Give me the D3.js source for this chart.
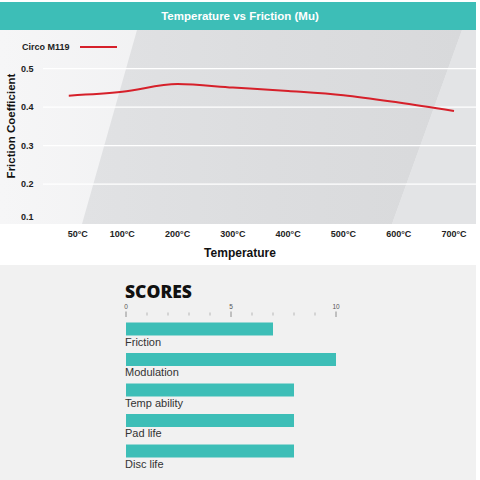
<!DOCTYPE html>
<html>
<head>
<meta charset="utf-8">
<script src="https://cdn.jsdelivr.net/npm/d3@7"></script>
<style>
  body { margin: 0; background: #fff; }
  svg { display: block; font-family: "Liberation Sans", Arial, sans-serif; }
</style>
</head>
<body>
<svg id="chart" width="480" height="480"></svg>
<script>
// data
var tempTicks = [50, 100, 200, 300, 400, 500, 600, 700];
var tempLabels = ["50°C", "100°C", "200°C", "300°C", "400°C", "500°C", "600°C", "700°C"];
var lineTemps = [40, 100, 200, 300, 400, 500, 600, 700];
var lineMu = [0.430, 0.440, 0.460, 0.451, 0.442, 0.431, 0.412, 0.390];
var muTicks = [0.1, 0.2, 0.3, 0.4, 0.5];
var seriesName = "Circo M119";

var scoreNames = ["Friction", "Modulation", "Temp ability", "Pad life", "Disc life"];
var scoreValues = [7, 10, 8, 8, 8];
var scoreTicks = [0, 5, 10];

const TEAL = "#3dbeb7";
const RED = "#d6202a";

var svg = d3.select("#chart");
var defs = svg.append("defs");

// 背景
var gLeft = defs.append("linearGradient").attr("id", "gLeft");
gLeft.append("stop").attr("offset", "0%").attr("stop-color", "#f6f6f7");
gLeft.append("stop").attr("offset", "100%").attr("stop-color", "#e7e8ea");
var gMid = defs.append("linearGradient").attr("id", "gMid");
gMid.append("stop").attr("offset", "0%").attr("stop-color", "#e1e2e4");
gMid.append("stop").attr("offset", "50%").attr("stop-color", "#dcdddf");
gMid.append("stop").attr("offset", "100%").attr("stop-color", "#d8d9db");

svg.append("rect").attr("x", 0).attr("y", 30).attr("width", 476).attr("height", 194)
  .attr("fill", "url(#gLeft)");
svg.append("polygon").attr("points", "137,30 462,30 392,224 82,224")
  .attr("fill", "url(#gMid)");
svg.append("polygon").attr("points", "462,30 476,30 476,224 392,224")
  .attr("fill", "#e3e4e6");

// タイトル帯
svg.append("rect").attr("x", 0).attr("y", 2).attr("width", 476).attr("height", 28)
  .attr("fill", TEAL);
svg.append("text").attr("x", 240).attr("y", 20).attr("text-anchor", "middle")
  .attr("fill", "#fff").attr("font-weight", "bold").attr("font-size", 11.5)
  .text("Temperature vs Friction (Mu)");

// スケール
var x = d3.scaleLinear().domain([50, 100, 700]).range([77.7, 122.3, 454]);
var y = d3.scaleLinear().domain([0.1, 0.5]).range([222.6, 68.7]);

// グリッド線
svg.selectAll(".grid")
  .data(muTicks.filter(function(d){ return d > 0.1; }))
  .enter().append("line")
  .attr("x1", 43).attr("x2", 476)
  .attr("y1", function(d){ return y(d); })
  .attr("y2", function(d){ return y(d); })
  .attr("stroke", "#fff").attr("stroke-width", 1.2);

// Y軸ラベル
svg.selectAll(".ylab")
  .data(muTicks)
  .enter().append("text")
  .attr("x", 21)
  .attr("y", function(d){ return d === 0.1 ? y(d) - 6 : y(d); })
  .attr("dy", "0.35em")
  .attr("font-size", 9).attr("font-weight", "bold").attr("fill", "#222")
  .text(function(d){ return d3.format(".1f")(d); });

// X軸ラベル
svg.selectAll(".xlab")
  .data(tempTicks)
  .enter().append("text")
  .attr("x", function(d){ return x(d); })
  .attr("y", 234).attr("dy", "0.35em")
  .attr("text-anchor", "middle")
  .attr("font-size", 9).attr("font-weight", "bold").attr("fill", "#222")
  .text(function(d, i){ return tempLabels[i]; });

svg.append("text").attr("x", 240).attr("y", 253).attr("dy", "0.35em")
  .attr("text-anchor", "middle").attr("font-size", 12).attr("font-weight", "bold")
  .attr("fill", "#111").text("Temperature");

svg.append("text").attr("transform", "translate(11,126) rotate(-90)")
  .attr("dy", "0.35em").attr("text-anchor", "middle")
  .attr("font-size", 11.5).attr("font-weight", "bold").attr("fill", "#111")
  .text("Friction Coefficient");

// 凡例
svg.append("text").attr("x", 22).attr("y", 47).attr("dy", "0.35em")
  .attr("font-size", 9).attr("font-weight", "bold").attr("fill", "#222")
  .text(seriesName);
svg.append("line").attr("x1", 80).attr("x2", 117).attr("y1", 47).attr("y2", 47)
  .attr("stroke", RED).attr("stroke-width", 2);

// 折れ線
var line = d3.line()
  .x(function(d, i){ return x(lineTemps[i]); })
  .y(function(d){ return y(d); })
  .curve(d3.curveMonotoneX);
svg.append("path").datum(lineMu)
  .attr("d", line)
  .attr("fill", "none").attr("stroke", RED).attr("stroke-width", 2);

// スコア部分
svg.append("rect").attr("x", 0).attr("y", 265).attr("width", 476).attr("height", 215)
  .attr("fill", "#f1f1f1");

svg.append("text").attr("x", 125).attr("y", 298)
  .attr("font-family", "'Open Sans', sans-serif")
  .attr("font-size", 17.5).attr("font-weight", 800).attr("fill", "#111")
  .text("SCORES");

var sx = d3.scaleLinear().domain([0, 10]).range([126, 336]);
var sy = d3.scaleBand().domain(scoreNames).range([322.5, 457.5]).paddingInner(0.574).paddingOuter(0);

var ticksG = svg.append("g");
ticksG.selectAll("line")
  .data(d3.range(0, 11))
  .enter().append("line")
  .attr("x1", function(d){ return sx(d); })
  .attr("x2", function(d){ return sx(d); })
  .attr("y1", function(d){ return d % 5 === 0 ? 311.5 : 312.5; })
  .attr("y2", function(d){ return d % 5 === 0 ? 317 : 315.5; })
  .attr("stroke", function(d){ return d % 5 === 0 ? "#777" : "#aaa"; })
  .attr("stroke-width", 0.8);
ticksG.selectAll("text")
  .data(scoreTicks)
  .enter().append("text")
  .attr("x", function(d){ return sx(d); })
  .attr("y", 307).attr("dy", "0.35em")
  .attr("text-anchor", "middle")
  .attr("font-size", 6.5).attr("fill", "#555")
  .text(function(d){ return d; });

svg.selectAll(".bar")
  .data(scoreValues)
  .enter().append("rect")
  .attr("class", "bar")
  .attr("x", sx(0))
  .attr("y", function(d, i){ return sy(scoreNames[i]); })
  .attr("width", function(d){ return sx(d) - sx(0); })
  .attr("height", sy.bandwidth())
  .attr("fill", TEAL);

svg.selectAll(".slab")
  .data(scoreNames)
  .enter().append("text")
  .attr("x", 125)
  .attr("y", function(d){ return sy(d) + sy.bandwidth() + 6.5; })
  .attr("dy", "0.35em")
  .attr("font-size", 11).attr("fill", "#333")
  .text(function(d){ return d; });
</script>
</body>
</html>
